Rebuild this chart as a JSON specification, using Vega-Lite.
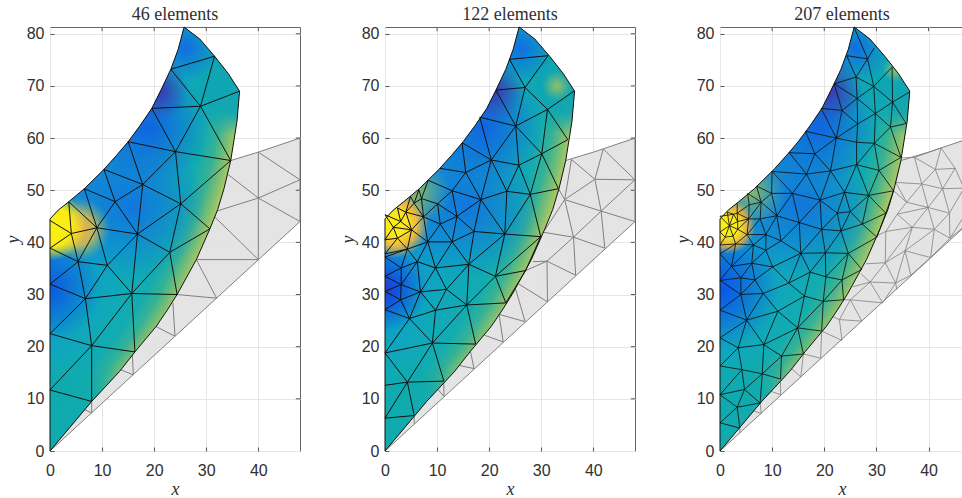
{"$schema":"https://vega.github.io/schema/vega-lite/v6.json","padding":{"left":3,"top":5,"right":0,"bottom":0},"spacing":37,"background":"white","config":{"view":{"stroke":"#666666","strokeWidth":1},"axis":{"grid":true,"gridColor":"#e6e6e6","gridWidth":1,"domain":false,"tickColor":"#555555","tickSize":-4,"labelFlush":false,"labelFont":"Liberation Sans","labelFontSize":16,"labelColor":"#303030","titleFont":"Liberation Serif","titleFontStyle":"italic","titleFontWeight":"normal","titleFontSize":18,"titleColor":"#303030"},"axisX":{"labelPadding":15,"titlePadding":2},"axisY":{"labelPadding":10},"title":{"font":"Liberation Serif","fontSize":18,"fontWeight":"normal","color":"#303030","offset":1}},
"datasets":{
"shape":[{"i":0,"x":0,"y":0},{"i":1,"x":8,"y":9.5},{"i":2,"x":13.4,"y":15.3},{"i":3,"x":16.3,"y":19},{"i":4,"x":20.4,"y":23.9},{"i":5,"x":22.5,"y":27},{"i":6,"x":24.4,"y":30},{"i":7,"x":28.1,"y":36.7},{"i":8,"x":30.7,"y":42.6},{"i":9,"x":32.2,"y":46.3},{"i":10,"x":33.4,"y":50.3},{"i":11,"x":34.7,"y":55.7},{"i":12,"x":35.9,"y":63.2},{"i":13,"x":36.4,"y":69},{"i":14,"x":34.2,"y":72.4},{"i":15,"x":31.6,"y":75.7},{"i":16,"x":28.75,"y":79},{"i":17,"x":25.75,"y":81.3},{"i":18,"x":24.6,"y":77},{"i":19,"x":23.2,"y":73.2},{"i":20,"x":21.4,"y":69.4},{"i":21,"x":19.55,"y":65.7},{"i":22,"x":17.3,"y":62.4},{"i":23,"x":15,"y":59.3},{"i":24,"x":12.7,"y":56.6},{"i":25,"x":10.35,"y":54},{"i":26,"x":6.6,"y":50.3},{"i":27,"x":3.6,"y":47.8},{"i":28,"x":1.6,"y":46.2},{"i":29,"x":0,"y":44.5},{"i":30,"x":0,"y":0}],
"gray":[{"i":0,"x":0,"y":0},{"i":1,"x":48,"y":44},{"i":2,"x":48,"y":60},{"i":3,"x":40,"y":57.3},{"i":4,"x":34.7,"y":55.7},{"i":5,"x":0,"y":0}],
"tk":[{"x":10,"y":81.3,"u":10,"v":80.5},{"x":20,"y":81.3,"u":20,"v":80.5},{"x":30,"y":81.3,"u":30,"v":80.5},{"x":40,"y":81.3,"u":40,"v":80.5},{"x":48,"y":10,"u":47.2,"v":10},{"x":48,"y":20,"u":47.2,"v":20},{"x":48,"y":30,"u":47.2,"v":30},{"x":48,"y":40,"u":47.2,"v":40},{"x":48,"y":50,"u":47.2,"v":50},{"x":48,"y":60,"u":47.2,"v":60},{"x":48,"y":70,"u":47.2,"v":70},{"x":48,"y":80,"u":47.2,"v":80}],
"g1":[{"x":40,"y":57.3,"u":48,"v":52},{"x":40,"y":57.3,"u":40,"v":48.5},{"x":40,"y":48.5,"u":48,"v":52},{"x":40,"y":48.5,"u":48,"v":44},{"x":40,"y":48.5,"u":32,"v":46},{"x":34.2,"y":53,"u":40,"v":48.5},{"x":40,"y":48.5,"u":40,"v":36.7},{"x":31.5,"y":45,"u":40,"v":36.7},{"x":28.1,"y":36.7,"u":40,"v":36.7},{"x":28.1,"y":36.7,"u":32,"v":29.3},{"x":24.4,"y":30,"u":32,"v":29.3},{"x":23.6,"y":28.4,"u":24,"v":22},{"x":20.3,"y":23.9,"u":24,"v":22},{"x":15.8,"y":18.8,"u":16,"v":14.6},{"x":13.5,"y":15.6,"u":16,"v":14.6},{"x":6.7,"y":7.9,"u":8,"v":7.3},{"x":8,"y":9.5,"u":8,"v":7.3}],
"e1":[{"x":23.2,"y":73.2,"u":31.6,"v":75.7},{"x":31.6,"y":75.7,"u":28.9,"v":66.1},{"x":28.9,"y":66.1,"u":36.4,"v":69},{"x":23.2,"y":73.2,"u":28.9,"v":66.1},{"x":19.55,"y":65.7,"u":28.9,"v":66.1},{"x":19.55,"y":65.7,"u":24.1,"v":57.4},{"x":28.9,"y":66.1,"u":24.1,"v":57.4},{"x":28.9,"y":66.1,"u":34.7,"v":55.7},{"x":15,"y":59.3,"u":24.1,"v":57.4},{"x":24.1,"y":57.4,"u":34.7,"v":55.7},{"x":15,"y":59.3,"u":17.8,"v":51.1},{"x":24.1,"y":57.4,"u":17.8,"v":51.1},{"x":24.1,"y":57.4,"u":25.1,"v":47.4},{"x":17.8,"y":51.1,"u":25.1,"v":47.4},{"x":25.1,"y":47.4,"u":34.7,"v":55.7},{"x":10.35,"y":54,"u":12.5,"v":47.8},{"x":10.35,"y":54,"u":17.8,"v":51.1},{"x":12.5,"y":47.8,"u":17.8,"v":51.1},{"x":12.5,"y":47.8,"u":16.8,"v":41.6},{"x":12.5,"y":47.8,"u":9,"v":42.8},{"x":6.6,"y":50.3,"u":12.5,"v":47.8},{"x":6.6,"y":50.3,"u":9,"v":42.8},{"x":3.6,"y":47.8,"u":9,"v":42.8},{"x":17.8,"y":51.1,"u":16.8,"v":41.6},{"x":16.8,"y":41.6,"u":25.1,"v":47.4},{"x":25.1,"y":47.4,"u":30.7,"v":42.6},{"x":16.8,"y":41.6,"u":23,"v":38.1},{"x":23,"y":38.1,"u":30.7,"v":42.6},{"x":23,"y":38.1,"u":25.1,"v":47.4},{"x":9,"y":42.8,"u":16.8,"v":41.6},{"x":9,"y":42.8,"u":4.1,"v":41.7},{"x":3.6,"y":47.8,"u":4.1,"v":41.7},{"x":0,"y":44.2,"u":4.1,"v":41.7},{"x":0,"y":38.9,"u":4.1,"v":41.7},{"x":4.1,"y":41.7,"u":5.4,"v":36.3},{"x":9,"y":42.8,"u":5.4,"v":36.3},{"x":9,"y":42.8,"u":11,"v":35.6},{"x":5.4,"y":36.3,"u":11,"v":35.6},{"x":11,"y":35.6,"u":16.8,"v":41.6},{"x":5.4,"y":36.3,"u":0,"v":38.9},{"x":5.4,"y":36.3,"u":0,"v":32},{"x":5.4,"y":36.3,"u":6.8,"v":29.2},{"x":11,"y":35.6,"u":6.8,"v":29.2},{"x":11,"y":35.6,"u":15.7,"v":30.2},{"x":16.8,"y":41.6,"u":15.7,"v":30.2},{"x":23,"y":38.1,"u":15.7,"v":30.2},{"x":23,"y":38.1,"u":24.4,"v":30},{"x":15.7,"y":30.2,"u":24.4,"v":30},{"x":6.8,"y":29.2,"u":15.7,"v":30.2},{"x":0,"y":32,"u":6.8,"v":29.2},{"x":0,"y":22.5,"u":6.8,"v":29.2},{"x":6.8,"y":29.2,"u":8,"v":20.2},{"x":15.7,"y":30.2,"u":8,"v":20.2},{"x":15.7,"y":30.2,"u":16.3,"v":19},{"x":8,"y":20.2,"u":0,"v":22.5},{"x":8,"y":20.2,"u":0,"v":11.7},{"x":8,"y":20.2,"u":16.3,"v":19},{"x":8,"y":20.2,"u":8,"v":9.5},{"x":0,"y":11.7,"u":8,"v":9.5}],
"g2":[{"x":30.7,"y":42.4,"u":34.5,"v":48.2},{"x":33.3,"y":50.3,"u":34.5,"v":48.2},{"x":34.5,"y":48.2,"u":35.8,"v":55.9},{"x":35.8,"y":55.9,"u":40.3,"v":52.1},{"x":34.5,"y":48.2,"u":40.3,"v":52.1},{"x":40.3,"y":52.1,"u":41.9,"v":57.9},{"x":41.9,"y":57.9,"u":48,"v":52},{"x":40.3,"y":52.1,"u":48,"v":52},{"x":40.3,"y":52.1,"u":41.5,"v":46},{"x":34.5,"y":48.2,"u":41.5,"v":46},{"x":48,"y":52,"u":41.5,"v":46},{"x":41.5,"y":46,"u":48,"v":44},{"x":41.5,"y":46,"u":36.2,"v":41},{"x":34.5,"y":48.2,"u":36.2,"v":41},{"x":41.5,"y":46,"u":42.2,"v":38.9},{"x":36.2,"y":41,"u":42.2,"v":38.9},{"x":30,"y":42,"u":36.2,"v":41},{"x":31.1,"y":36.4,"u":36.2,"v":41},{"x":31.1,"y":36.4,"u":27,"v":34.6},{"x":31.1,"y":36.4,"u":28.4,"v":36.3},{"x":31.1,"y":36.4,"u":36.6,"v":33.7},{"x":31.1,"y":36.4,"u":31.2,"v":28.6},{"x":36.2,"y":41,"u":36.6,"v":33.7},{"x":25.7,"y":32,"u":31.2,"v":28.6},{"x":25.1,"y":31,"u":26.9,"v":24.8},{"x":21.9,"y":26.2,"u":26.9,"v":24.8},{"x":21.9,"y":26.2,"u":22.7,"v":20.9},{"x":19.1,"y":22.2,"u":22.7,"v":20.9},{"x":16.4,"y":19.1,"u":17.1,"v":15.8},{"x":14.3,"y":16.4,"u":17.1,"v":15.8},{"x":11.3,"y":13.4,"u":11.3,"v":10.5},{"x":9.9,"y":12.1,"u":11.3,"v":10.5},{"x":5.6,"y":6.8,"u":5.6,"v":5.2}],
"e2":[{"x":23.9,"y":75.1,"u":31.3,"v":75.8},{"x":23.9,"y":75.1,"u":26.9,"v":69.7},{"x":31.3,"y":75.8,"u":26.9,"v":69.7},{"x":21.3,"y":69.2,"u":26.9,"v":69.7},{"x":26.9,"y":69.7,"u":31.2,"v":65.5},{"x":26.9,"y":69.7,"u":25.1,"v":62.3},{"x":31.2,"y":65.5,"u":36.3,"v":69},{"x":31.2,"y":65.5,"u":25.1,"v":62.3},{"x":31.2,"y":65.5,"u":35.1,"v":59.7},{"x":31.2,"y":65.5,"u":30.1,"v":57},{"x":21.3,"y":69.2,"u":25.1,"v":62.3},{"x":18.2,"y":64,"u":25.1,"v":62.3},{"x":18.2,"y":64,"u":20.4,"v":55.8},{"x":25.1,"y":62.3,"u":20.4,"v":55.8},{"x":25.1,"y":62.3,"u":25.7,"v":54.8},{"x":25.7,"y":54.8,"u":20.4,"v":55.8},{"x":25.7,"y":54.8,"u":30.1,"v":57},{"x":30.1,"y":57,"u":35.1,"v":59.7},{"x":25.1,"y":62.3,"u":30.1,"v":57},{"x":14.8,"y":59.1,"u":20.4,"v":55.8},{"x":14.8,"y":59.1,"u":15.5,"v":53.4},{"x":20.4,"y":55.8,"u":15.5,"v":53.4},{"x":20.4,"y":55.8,"u":23.4,"v":49.8},{"x":20.4,"y":55.8,"u":18.4,"v":48.2},{"x":25.7,"y":54.8,"u":23.4,"v":49.8},{"x":25.7,"y":54.8,"u":27.9,"v":49.2},{"x":30.1,"y":57,"u":27.9,"v":49.2},{"x":30.1,"y":57,"u":33.3,"v":50.3},{"x":23.4,"y":49.8,"u":27.9,"v":49.2},{"x":27.9,"y":49.2,"u":33.3,"v":50.3},{"x":23.4,"y":49.8,"u":18.4,"v":48.2},{"x":10.5,"y":54.2,"u":15.5,"v":53.4},{"x":15.5,"y":53.4,"u":12.9,"v":49.9},{"x":15.5,"y":53.4,"u":18.4,"v":48.2},{"x":8.3,"y":51.9,"u":12.9,"v":49.9},{"x":12.9,"y":49.9,"u":18.4,"v":48.2},{"x":12.9,"y":49.9,"u":10.1,"v":47.4},{"x":12.9,"y":49.9,"u":13.8,"v":45},{"x":13.8,"y":45,"u":18.4,"v":48.2},{"x":18.4,"y":48.2,"u":17.1,"v":42.1},{"x":13.8,"y":45,"u":17.1,"v":42.1},{"x":18.4,"y":48.2,"u":23,"v":41.6},{"x":23.4,"y":49.8,"u":23,"v":41.6},{"x":27.9,"y":49.2,"u":23,"v":41.6},{"x":27.9,"y":49.2,"u":29.9,"v":41.1},{"x":23,"y":41.6,"u":29.9,"v":41.1},{"x":17.1,"y":42.1,"u":23,"v":41.6},{"x":13.8,"y":45,"u":12.9,"v":40.1},{"x":10.6,"y":43.5,"u":13.8,"v":45},{"x":10.1,"y":47.4,"u":13.8,"v":45},{"x":10.1,"y":47.4,"u":10.6,"v":43.5},{"x":10.1,"y":47.4,"u":7.4,"v":44.9},{"x":7,"y":48.4,"u":10.1,"v":47.4},{"x":8.3,"y":51.9,"u":7,"v":48.4},{"x":7,"y":48.4,"u":7.4,"v":44.9},{"x":7.4,"y":44.9,"u":10.6,"v":43.5},{"x":7.4,"y":44.9,"u":5.1,"v":42.4},{"x":7.4,"y":44.9,"u":8.2,"v":40.1},{"x":10.6,"y":43.5,"u":8.2,"v":40.1},{"x":10.6,"y":43.5,"u":12.9,"v":40.1},{"x":12.9,"y":40.1,"u":17.1,"v":42.1},{"x":8.2,"y":40.1,"u":12.9,"v":40.1},{"x":17.1,"y":42.1,"u":16.1,"v":35.8},{"x":23,"y":41.6,"u":16.1,"v":35.8},{"x":23,"y":41.6,"u":21.2,"v":33.5},{"x":29.9,"y":41.1,"u":21.2,"v":33.5},{"x":29.9,"y":41.1,"u":27,"v":34.6},{"x":21.2,"y":33.5,"u":27,"v":34.6},{"x":16.1,"y":35.8,"u":21.2,"v":33.5},{"x":16.1,"y":35.8,"u":9.7,"v":35.1},{"x":12.9,"y":40.1,"u":9.7,"v":35.1},{"x":12.9,"y":40.1,"u":16.1,"v":35.8},{"x":8.2,"y":40.1,"u":9.7,"v":35.1},{"x":9.7,"y":35.1,"u":11.8,"v":31},{"x":16.1,"y":35.8,"u":11.8,"v":31},{"x":16.1,"y":35.8,"u":15.7,"v":28},{"x":21.2,"y":33.5,"u":15.7,"v":28},{"x":21.2,"y":33.5,"u":23.2,"v":28.4},{"x":27,"y":34.6,"u":23.2,"v":28.4},{"x":15.7,"y":28,"u":23.2,"v":28.4},{"x":11.8,"y":31,"u":15.7,"v":28},{"x":11.8,"y":31,"u":6.8,"v":30.5},{"x":11.8,"y":31,"u":9.7,"v":27},{"x":15.7,"y":28,"u":9.7,"v":27},{"x":6.8,"y":30.5,"u":9.7,"v":27},{"x":6.8,"y":30.5,"u":4.7,"v":25.4},{"x":6.8,"y":30.5,"u":9.7,"v":35.1},{"x":9.7,"y":27,"u":4.7,"v":25.4},{"x":3,"y":29,"u":4.7,"v":25.4},{"x":3.1,"y":31.9,"u":6.8,"v":30.5},{"x":3,"y":29,"u":6.8,"v":30.5},{"x":3.1,"y":31.9,"u":3,"v":29},{"x":3.1,"y":35.1,"u":3.1,"v":31.9},{"x":3.1,"y":35.1,"u":6.2,"v":36.3},{"x":6.2,"y":36.3,"u":9.7,"v":35.1},{"x":6.2,"y":36.3,"u":6.8,"v":30.5},{"x":6.2,"y":36.3,"u":8.2,"v":40.1},{"x":3.1,"y":35.1,"u":4.3,"v":38.7},{"x":6.2,"y":36.3,"u":4.3,"v":38.7},{"x":3.1,"y":31.9,"u":6.2,"v":36.3},{"x":0,"y":37.2,"u":3.1,"v":35.1},{"x":0,"y":33.5,"u":3.1,"v":35.1},{"x":0,"y":33.5,"u":3.1,"v":31.9},{"x":0,"y":30.6,"u":3.1,"v":31.9},{"x":0,"y":30.6,"u":3,"v":29},{"x":0,"y":27.1,"u":3,"v":29},{"x":0,"y":27.1,"u":4.7,"v":25.4},{"x":9.7,"y":27,"u":9.1,"v":20.7},{"x":4.7,"y":25.4,"u":9.1,"v":20.7},{"x":4.7,"y":25.4,"u":0,"v":18.8},{"x":0,"y":18.8,"u":9.1,"v":20.7},{"x":15.7,"y":28,"u":9.1,"v":20.7},{"x":15.7,"y":28,"u":17.4,"v":20.5},{"x":9.1,"y":20.7,"u":17.4,"v":20.5},{"x":9.1,"y":20.7,"u":4.3,"v":13.2},{"x":9.1,"y":20.7,"u":11.3,"v":13.4},{"x":0,"y":18.8,"u":4.3,"v":13.2},{"x":4.3,"y":13.2,"u":11.3,"v":13.4},{"x":4.3,"y":13.2,"u":0,"v":12.6},{"x":4.3,"y":13.2,"u":0,"v":6.3},{"x":4.3,"y":13.2,"u":5.6,"v":6.8},{"x":0,"y":6.3,"u":5.6,"v":6.8},{"x":0,"y":45.3,"u":1.6,"v":42.9},{"x":2.4,"y":46.6,"u":3,"v":44},{"x":0,"y":45.3,"u":3,"v":44},{"x":1.6,"y":42.9,"u":3,"v":44},{"x":2.4,"y":46.6,"u":4,"v":45.8},{"x":4,"y":45.8,"u":3,"v":44},{"x":4,"y":45.8,"u":5.6,"v":47.5},{"x":4.9,"y":48.8,"u":4,"v":45.8},{"x":4.9,"y":48.8,"u":5.6,"v":47.5},{"x":6.5,"y":50.1,"u":5.6,"v":47.5},{"x":6.5,"y":50.1,"u":7,"v":48.4},{"x":5.6,"y":47.5,"u":7,"v":48.4},{"x":5.6,"y":47.5,"u":7.4,"v":44.9},{"x":4,"y":45.8,"u":5.1,"v":42.4},{"x":3,"y":44,"u":5.1,"v":42.4},{"x":1.6,"y":42.9,"u":5.1,"v":42.4},{"x":4,"y":45.8,"u":7.4,"v":44.9},{"x":0,"y":40.5,"u":1.6,"v":42.9},{"x":1.6,"y":42.9,"u":2.4,"v":40.8},{"x":2.4,"y":40.8,"u":5.1,"v":42.4},{"x":2.4,"y":40.8,"u":4.3,"v":38.7},{"x":5.1,"y":42.4,"u":4.3,"v":38.7},{"x":5.1,"y":42.4,"u":8.2,"v":40.1},{"x":8.2,"y":40.1,"u":4.3,"v":38.7},{"x":0,"y":40.5,"u":2.4,"v":40.8},{"x":0,"y":37.8,"u":2.4,"v":40.8},{"x":0,"y":37.8,"u":4.3,"v":38.7},{"x":0,"y":37.2,"u":4.3,"v":38.7}],
"g3":[{"x":37.3,"y":56.3,"u":42.4,"v":58.1},{"x":37.3,"y":56.3,"u":41.3,"v":54},{"x":42.4,"y":58.1,"u":41.3,"v":54},{"x":42.4,"y":58.1,"u":45.1,"v":54.2},{"x":41.3,"y":54,"u":45.1,"v":54.2},{"x":41.3,"y":54,"u":38.7,"v":51.2},{"x":41.3,"y":54,"u":42.7,"v":50.3},{"x":45.1,"y":54.2,"u":42.7,"v":50.3},{"x":45.1,"y":54.2,"u":46.8,"v":50.4},{"x":42.7,"y":50.3,"u":46.8,"v":50.4},{"x":38.7,"y":51.2,"u":42.7,"v":50.3},{"x":37.3,"y":56.3,"u":38.7,"v":51.2},{"x":34.7,"y":56.2,"u":37.3,"v":56.3},{"x":33.7,"y":51.5,"u":38.7,"v":51.2},{"x":33.7,"y":51.5,"u":34.7,"v":56},{"x":33.7,"y":51.5,"u":35.8,"v":47.7},{"x":38.7,"y":51.2,"u":35.8,"v":47.7},{"x":38.7,"y":51.2,"u":39.9,"v":46.7},{"x":42.7,"y":50.3,"u":39.9,"v":46.7},{"x":42.7,"y":50.3,"u":44,"v":45.6},{"x":46.8,"y":50.4,"u":44,"v":45.6},{"x":35.8,"y":47.7,"u":39.9,"v":46.7},{"x":35.8,"y":47.7,"u":34,"v":45.4},{"x":35.8,"y":47.7,"u":33.3,"v":49.9},{"x":34,"y":45.4,"u":31.8,"v":42.1},{"x":34,"y":45.4,"u":36.9,"v":42.9},{"x":34,"y":45.4,"u":39.9,"v":46.7},{"x":39.9,"y":46.7,"u":36.9,"v":42.9},{"x":39.9,"y":46.7,"u":44,"v":45.6},{"x":39.9,"y":46.7,"u":41.1,"v":42.5},{"x":44,"y":45.6,"u":44.1,"v":40.8},{"x":44,"y":45.6,"u":41.1,"v":42.5},{"x":41.1,"y":42.5,"u":44.1,"v":40.8},{"x":36.9,"y":42.9,"u":41.1,"v":42.5},{"x":31.8,"y":42.1,"u":36.9,"v":42.9},{"x":31.8,"y":42.1,"u":31.7,"v":36.1},{"x":36.9,"y":42.9,"u":31.7,"v":36.1},{"x":36.9,"y":42.9,"u":35.5,"v":38.4},{"x":41.1,"y":42.5,"u":35.5,"v":38.4},{"x":41.1,"y":42.5,"u":40.4,"v":37.1},{"x":44.1,"y":40.8,"u":40.4,"v":37.1},{"x":35.5,"y":38.4,"u":40.4,"v":37.1},{"x":31.7,"y":36.1,"u":35.5,"v":38.4},{"x":35.5,"y":38.4,"u":36.6,"v":33.7},{"x":40.4,"y":37.1,"u":36.6,"v":33.7},{"x":44.1,"y":40.8,"u":46.8,"v":43},{"x":44.1,"y":40.8,"u":46.8,"v":45},{"x":31.7,"y":36.1,"u":28.8,"v":32.4},{"x":31.7,"y":36.1,"u":33.7,"v":32.2},{"x":35.5,"y":38.4,"u":33.7,"v":32.2},{"x":33.7,"y":32.2,"u":36.6,"v":33.7},{"x":33.7,"y":32.2,"u":33.9,"v":31},{"x":33.7,"y":32.2,"u":28.8,"v":32.4},{"x":28.8,"y":32.4,"u":31.2,"v":28.4},{"x":33.7,"y":32.2,"u":31.2,"v":28.4},{"x":28.8,"y":32.4,"u":25,"v":29},{"x":25,"y":29,"u":27.2,"v":24.9},{"x":25,"y":29,"u":31.2,"v":28.4},{"x":31.8,"y":42.1,"u":30,"v":41.2},{"x":31.7,"y":36.1,"u":28,"v":35.9},{"x":28.8,"y":32.4,"u":27,"v":34},{"x":28.8,"y":32.4,"u":25.5,"v":31.5},{"x":25,"y":29,"u":23.7,"v":29},{"x":25,"y":29,"u":22.9,"v":25.2},{"x":22.9,"y":25.2,"u":27.2,"v":24.9},{"x":22.9,"y":25.2,"u":23.4,"v":21.2},{"x":22.9,"y":25.2,"u":21.5,"v":25.8},{"x":19.5,"y":23,"u":23.4,"v":21.2},{"x":19.5,"y":23,"u":19.3,"v":17.8},{"x":16,"y":18.6,"u":19.3,"v":17.8},{"x":16,"y":18.6,"u":15.5,"v":14.2},{"x":13.6,"y":15.9,"u":15.5,"v":14.2},{"x":11.6,"y":13.8,"u":11.6,"v":10.8},{"x":9.6,"y":11.5,"u":11.6,"v":10.8},{"x":7.7,"y":9.2,"u":7.9,"v":7.2},{"x":6.4,"y":7.7,"u":7.9,"v":7.2},{"x":3.8,"y":4.4,"u":3.8,"v":3.5}],
"e3":[{"x":25.7,"y":81.3,"u":28.3,"v":75.2},{"x":28.3,"y":75.2,"u":29.6,"v":77.3},{"x":24.3,"y":75.8,"u":28.3,"v":75.2},{"x":24.3,"y":75.8,"u":26.1,"v":71.7},{"x":28.3,"y":75.2,"u":26.1,"v":71.7},{"x":33,"y":73.6,"u":29.5,"v":69.9},{"x":28.3,"y":75.2,"u":29.5,"v":69.9},{"x":33,"y":73.6,"u":33.1,"v":66.9},{"x":36.3,"y":68.8,"u":33.1,"v":66.9},{"x":26.1,"y":71.7,"u":29.5,"v":69.9},{"x":26.1,"y":71.7,"u":26.3,"v":67.6},{"x":21.9,"y":70.4,"u":26.1,"v":71.7},{"x":21.9,"y":70.4,"u":23.4,"v":65.3},{"x":21.9,"y":70.4,"u":26.3,"v":67.6},{"x":29.5,"y":69.9,"u":26.3,"v":67.6},{"x":29.5,"y":69.9,"u":29.8,"v":64.7},{"x":29.5,"y":69.9,"u":33.1,"v":66.9},{"x":26.3,"y":67.6,"u":23.4,"v":65.3},{"x":26.3,"y":67.6,"u":29.8,"v":64.7},{"x":26.3,"y":67.6,"u":26.4,"v":62.7},{"x":33.1,"y":66.9,"u":29.8,"v":64.7},{"x":33.1,"y":66.9,"u":32.7,"v":62.1},{"x":33.1,"y":66.9,"u":35.7,"v":62.8},{"x":29.8,"y":64.7,"u":26.4,"v":62.7},{"x":29.8,"y":64.7,"u":32.7,"v":62.1},{"x":32.7,"y":62.1,"u":35.7,"v":62.8},{"x":23.4,"y":65.3,"u":19.4,"v":65.7},{"x":23.4,"y":65.3,"u":22.3,"v":60},{"x":23.4,"y":65.3,"u":26.4,"v":62.7},{"x":19.4,"y":65.7,"u":22.3,"v":60},{"x":26.4,"y":62.7,"u":22.3,"v":60},{"x":26.4,"y":62.7,"u":26.2,"v":59.2},{"x":29.8,"y":64.7,"u":29.6,"v":59},{"x":32.7,"y":62.1,"u":29.6,"v":59},{"x":32.7,"y":62.1,"u":34.7,"v":56.3},{"x":29.6,"y":59,"u":34.7,"v":56.3},{"x":29.6,"y":59,"u":26.2,"v":59.2},{"x":22.3,"y":60,"u":26.2,"v":59.2},{"x":16.4,"y":61.3,"u":22.3,"v":60},{"x":16.4,"y":61.3,"u":18.2,"v":57},{"x":22.3,"y":60,"u":18.2,"v":57},{"x":22.3,"y":60,"u":21.2,"v":53.7},{"x":26.2,"y":59.2,"u":26.2,"v":54.9},{"x":29.6,"y":59,"u":26.2,"v":54.9},{"x":29.6,"y":59,"u":30.5,"v":53.8},{"x":34.7,"y":56.3,"u":30.5,"v":53.8},{"x":30.5,"y":53.8,"u":33.3,"v":49.9},{"x":30.5,"y":53.8,"u":28.5,"v":49},{"x":26.2,"y":54.9,"u":30.5,"v":53.8},{"x":26.2,"y":54.9,"u":21.2,"v":53.7},{"x":26.2,"y":54.9,"u":23.9,"v":49.6},{"x":26.2,"y":54.9,"u":28.5,"v":49},{"x":21.2,"y":53.7,"u":23.9,"v":49.6},{"x":21.2,"y":53.7,"u":19.2,"v":48.1},{"x":18.2,"y":57,"u":21.2,"v":53.7},{"x":18.2,"y":57,"u":16.6,"v":53.1},{"x":13.3,"y":57.2,"u":18.2,"v":57},{"x":13.3,"y":57.2,"u":16.6,"v":53.1},{"x":10,"y":53.6,"u":16.6,"v":53.1},{"x":21.2,"y":53.7,"u":16.6,"v":53.1},{"x":16.6,"y":53.1,"u":13.9,"v":49.4},{"x":16.6,"y":53.1,"u":19.2,"v":48.1},{"x":10,"y":53.6,"u":13.9,"v":49.4},{"x":10,"y":53.6,"u":9.9,"v":49.4},{"x":7,"y":50.8,"u":9.9,"v":49.4},{"x":13.9,"y":49.4,"u":9.9,"v":49.4},{"x":13.9,"y":49.4,"u":10.9,"v":45.1},{"x":13.9,"y":49.4,"u":15.2,"v":43.8},{"x":13.9,"y":49.4,"u":19.2,"v":48.1},{"x":19.2,"y":48.1,"u":15.2,"v":43.8},{"x":19.2,"y":48.1,"u":19.5,"v":42.5},{"x":19.2,"y":48.1,"u":22.5,"v":45.6},{"x":23.9,"y":49.6,"u":19.2,"v":48.1},{"x":23.9,"y":49.6,"u":22.5,"v":45.6},{"x":23.9,"y":49.6,"u":25,"v":45.9},{"x":23.9,"y":49.6,"u":28.5,"v":49},{"x":28.5,"y":49,"u":25,"v":45.9},{"x":28.5,"y":49,"u":27.3,"v":43.5},{"x":28.5,"y":49,"u":31.8,"v":45.6},{"x":28.5,"y":49,"u":33.3,"v":49.9},{"x":33.3,"y":49.9,"u":31.8,"v":45.6},{"x":31.8,"y":45.6,"u":27.3,"v":43.5},{"x":31.8,"y":45.6,"u":30.1,"v":41},{"x":25,"y":45.9,"u":22.5,"v":45.6},{"x":25,"y":45.9,"u":23.2,"v":42.2},{"x":25,"y":45.9,"u":27.3,"v":43.5},{"x":22.5,"y":45.6,"u":19.5,"v":42.5},{"x":22.5,"y":45.6,"u":23.2,"v":42.2},{"x":19.5,"y":42.5,"u":23.2,"v":42.2},{"x":15.2,"y":43.8,"u":19.5,"v":42.5},{"x":23.2,"y":42.2,"u":27.3,"v":43.5},{"x":27.3,"y":43.5,"u":30.1,"v":41},{"x":10.9,"y":45.1,"u":15.2,"v":43.8},{"x":9.9,"y":49.4,"u":10.9,"v":45.1},{"x":9.9,"y":49.4,"u":7.9,"v":47.7},{"x":7.9,"y":47.7,"u":10.9,"v":45.1},{"x":7.9,"y":47.7,"u":7.7,"v":44.5},{"x":10.9,"y":45.1,"u":7.7,"v":44.5},{"x":10.9,"y":45.1,"u":8.8,"v":41.5},{"x":10.9,"y":45.1,"u":11.7,"v":40.3},{"x":15.2,"y":43.8,"u":11.7,"v":40.3},{"x":8.8,"y":41.5,"u":11.7,"v":40.3},{"x":7.7,"y":44.5,"u":8.8,"v":41.5},{"x":8.8,"y":41.5,"u":6.4,"v":39.5},{"x":8.8,"y":41.5,"u":8.8,"v":38.5},{"x":11.7,"y":40.3,"u":8.8,"v":38.5},{"x":11.7,"y":40.3,"u":15.5,"v":37.9},{"x":15.2,"y":43.8,"u":15.5,"v":37.9},{"x":19.5,"y":42.5,"u":15.5,"v":37.9},{"x":19.5,"y":42.5,"u":20.2,"v":38},{"x":23.2,"y":42.2,"u":20.2,"v":38},{"x":23.2,"y":42.2,"u":24.6,"v":37.9},{"x":30.1,"y":41,"u":24.6,"v":37.9},{"x":15.5,"y":37.9,"u":20.2,"v":38},{"x":20.2,"y":38,"u":24.6,"v":37.9},{"x":8.8,"y":38.5,"u":10.1,"v":35.3},{"x":8.8,"y":38.5,"u":6.1,"v":36},{"x":6.4,"y":39.5,"u":8.8,"v":38.5},{"x":6.4,"y":39.5,"u":6.1,"v":36},{"x":10.1,"y":35.3,"u":15.5,"v":37.9},{"x":10.1,"y":35.3,"u":6.1,"v":36},{"x":10.1,"y":35.3,"u":13.2,"v":32.2},{"x":10.1,"y":35.3,"u":6.7,"v":32.8},{"x":15.5,"y":37.9,"u":13.2,"v":32.2},{"x":15.5,"y":37.9,"u":17.3,"v":34.3},{"x":20.2,"y":38,"u":17.3,"v":34.3},{"x":20.2,"y":38,"u":20.3,"v":33.4},{"x":24.6,"y":37.9,"u":20.3,"v":33.4},{"x":24.6,"y":37.9,"u":23.4,"v":32.8},{"x":24.6,"y":37.9,"u":27.2,"v":34.8},{"x":20.3,"y":33.4,"u":23.4,"v":32.8},{"x":23.4,"y":32.8,"u":27.2,"v":34.8},{"x":17.3,"y":34.3,"u":20.3,"v":33.4},{"x":17.3,"y":34.3,"u":13.2,"v":32.2},{"x":17.3,"y":34.3,"u":16.2,"v":29.7},{"x":20.3,"y":33.4,"u":19.8,"v":28.7},{"x":23.4,"y":32.8,"u":19.8,"v":28.7},{"x":23.4,"y":32.8,"u":23.7,"v":29},{"x":19.8,"y":28.7,"u":23.7,"v":29},{"x":16.2,"y":29.7,"u":19.8,"v":28.7},{"x":13.2,"y":32.2,"u":16.2,"v":29.7},{"x":13.2,"y":32.2,"u":8.3,"v":30.2},{"x":16.2,"y":29.7,"u":11.1,"v":26.8},{"x":8.3,"y":30.2,"u":6.7,"v":32.8},{"x":8.3,"y":30.2,"u":11.1,"v":26.8},{"x":8.3,"y":30.2,"u":4,"v":30},{"x":4,"y":30,"u":6.7,"v":32.8},{"x":4,"y":30,"u":4,"v":33.2},{"x":4,"y":33.2,"u":6.7,"v":32.8},{"x":4,"y":33.2,"u":6.1,"v":36},{"x":4,"y":33.2,"u":2.2,"v":35.4},{"x":2.2,"y":35.4,"u":6.1,"v":36},{"x":6.7,"y":32.8,"u":6.1,"v":36},{"x":0,"y":32.7,"u":4,"v":33.2},{"x":0,"y":32.7,"u":2.2,"v":35.4},{"x":0,"y":32.7,"u":4,"v":30},{"x":0,"y":27,"u":4,"v":30},{"x":0,"y":27,"u":5.1,"v":25.1},{"x":4,"y":30,"u":5.1,"v":25.1},{"x":8.3,"y":30.2,"u":5.1,"v":25.1},{"x":5.1,"y":25.1,"u":11.1,"v":26.8},{"x":5.1,"y":25.1,"u":8.4,"v":20.4},{"x":5.1,"y":25.1,"u":0,"v":21.7},{"x":11.1,"y":26.8,"u":8.4,"v":20.4},{"x":11.1,"y":26.8,"u":14.9,"v":23.6},{"x":16.2,"y":29.7,"u":14.9,"v":23.6},{"x":14.9,"y":23.6,"u":19.8,"v":28.7},{"x":14.9,"y":23.6,"u":19.5,"v":23},{"x":19.8,"y":28.7,"u":19.5,"v":23},{"x":8.4,"y":20.4,"u":14.9,"v":23.6},{"x":14.9,"y":23.6,"u":11.8,"v":18.2},{"x":14.9,"y":23.6,"u":16,"v":18.6},{"x":8.4,"y":20.4,"u":11.8,"v":18.2},{"x":11.8,"y":18.2,"u":16,"v":18.6},{"x":11.8,"y":18.2,"u":11.6,"v":13.8},{"x":8.4,"y":20.4,"u":3.5,"v":19.8},{"x":3.5,"y":19.8,"u":5.1,"v":25.1},{"x":0,"y":21.7,"u":3.5,"v":19.8},{"x":0,"y":16.3,"u":3.5,"v":19.8},{"x":3.5,"y":19.8,"u":4.2,"v":15.6},{"x":0,"y":16.3,"u":4.2,"v":15.6},{"x":8.4,"y":20.4,"u":8.1,"v":14.8},{"x":4.2,"y":15.6,"u":8.1,"v":14.8},{"x":11.8,"y":18.2,"u":8.1,"v":14.8},{"x":8.1,"y":14.8,"u":11.6,"v":13.8},{"x":8.1,"y":14.8,"u":4.7,"v":11.8},{"x":4.2,"y":15.6,"u":4.7,"v":11.8},{"x":0,"y":10.8,"u":4.2,"v":15.6},{"x":0,"y":10.8,"u":4.7,"v":11.8},{"x":4.7,"y":11.8,"u":7.7,"v":9.2},{"x":8.1,"y":14.8,"u":7.7,"v":9.2},{"x":4.7,"y":11.8,"u":3.3,"v":8.4},{"x":3.3,"y":8.4,"u":7.7,"v":9.2},{"x":0,"y":10.8,"u":3.3,"v":8.4},{"x":0,"y":5.4,"u":3.3,"v":8.4},{"x":0,"y":5.4,"u":3.8,"v":4.4},{"x":3.3,"y":8.4,"u":3.8,"v":4.4},{"x":1.8,"y":43.2,"u":0,"v":45},{"x":1.8,"y":43.2,"u":1.4,"v":45.8},{"x":1.8,"y":43.2,"u":2.6,"v":45.4},{"x":1.8,"y":43.2,"u":3.4,"v":44},{"x":1.8,"y":43.2,"u":3.4,"v":42.5},{"x":1.8,"y":43.2,"u":2.5,"v":41.2},{"x":1.8,"y":43.2,"u":1,"v":41},{"x":1.8,"y":43.2,"u":0,"v":42},{"x":0,"y":45,"u":2.6,"v":45.4},{"x":1.4,"y":45.8,"u":2.6,"v":45.4},{"x":2.6,"y":45.4,"u":3.4,"v":44},{"x":3.4,"y":44,"u":3.4,"v":42.5},{"x":3.4,"y":42.5,"u":2.5,"v":41.2},{"x":2.5,"y":41.2,"u":1,"v":41},{"x":1,"y":41,"u":0,"v":42},{"x":3.3,"y":47.5,"u":3.3,"v":45.6},{"x":2.6,"y":45.4,"u":3.3,"v":45.6},{"x":3.3,"y":45.6,"u":3.4,"v":44},{"x":3.3,"y":45.6,"u":5.6,"v":47.2},{"x":3.3,"y":45.6,"u":5.5,"v":44.5},{"x":5.3,"y":49.4,"u":5.6,"v":47.2},{"x":5.6,"y":47.2,"u":7.9,"v":47.7},{"x":5.6,"y":47.2,"u":5.5,"v":44.5},{"x":5.3,"y":49.4,"u":7.9,"v":47.7},{"x":7,"y":50.8,"u":7.9,"v":47.7},{"x":7.7,"y":44.5,"u":5.5,"v":44.5},{"x":7.9,"y":47.7,"u":5.5,"v":44.5},{"x":5.5,"y":44.5,"u":3.4,"v":44},{"x":5.5,"y":44.5,"u":3.4,"v":42.5},{"x":7.7,"y":44.5,"u":5.2,"v":41.5},{"x":5.5,"y":44.5,"u":5.2,"v":41.5},{"x":5.2,"y":41.5,"u":8.8,"v":41.5},{"x":5.2,"y":41.5,"u":3.4,"v":42.5},{"x":5.2,"y":41.5,"u":6.4,"v":39.5},{"x":5.2,"y":41.5,"u":3,"v":39.7},{"x":2.5,"y":41.2,"u":3,"v":39.7},{"x":3,"y":39.7,"u":6.4,"v":39.5},{"x":0,"y":39.5,"u":3,"v":39.7},{"x":0,"y":39.5,"u":1,"v":41},{"x":0,"y":37.8,"u":3,"v":39.7},{"x":0,"y":37.8,"u":2.2,"v":35.4},{"x":3,"y":39.7,"u":2.2,"v":35.4},{"x":6.4,"y":39.5,"u":2.2,"v":35.4}]
},
"hconcat":[
{"width":250,"height":424,"title":"46 elements",
"encoding":{"x":{"field":"x","type":"quantitative","title":"x","scale":{"domain":[0,48],"nice":false,"zero":false},"axis":{"values":[0,10,20,30,40]}},"y":{"field":"y","type":"quantitative","title":"y","scale":{"domain":[0,81.3],"nice":false,"zero":false},"axis":{"values":[0,10,20,30,40,50,60,70,80]}}},
"layer":[
{"data":{"name":"gray"},"mark":{"type":"line","fill":"#e2e2e2","fillOpacity":0.92,"stroke":"#808080","strokeWidth":1,"clip":true},"encoding":{"order":{"field":"i"}}},
{"data":{"name":"g1"},"mark":{"type":"rule","stroke":"#808080","strokeWidth":1,"clip":true},"encoding":{"x2":{"field":"u"},"y2":{"field":"v"}}},
{"data":{"name":"shape"},"mark":{"type":"line","strokeWidth":0,"fill":{"gradient":"radial","x1":-0.549,"y1":0.022,"r1":0,"x2":-0.549,"y2":0.022,"r2":1.3,"stops":[{"offset":0.6,"color":"#1a90cf"},{"offset":0.72,"color":"#1288d6"},{"offset":0.8,"color":"#0f98cc"},{"offset":0.85,"color":"#0ea5c0"},{"offset":0.93,"color":"#12acb0"},{"offset":0.955,"color":"#35b295"},{"offset":0.975,"color":"#78be75"},{"offset":0.995,"color":"#c0cc5c"}]}},"encoding":{"order":{"field":"i"}}},
{"data":{"name":"shape"},"mark":{"type":"line","strokeWidth":0,"fill":{"gradient":"radial","x1":0.313,"y1":0.963,"r1":0,"x2":0.313,"y2":0.963,"r2":0.2,"stops":[{"offset":0,"color":"rgba(14,170,175,1)"},{"offset":0.6,"color":"rgba(14,170,175,0.9)"},{"offset":1,"color":"rgba(14,170,175,0)"}]}},"encoding":{"order":{"field":"i"}}},
{"data":{"name":"shape"},"mark":{"type":"line","strokeWidth":0,"fill":{"gradient":"radial","x1":0.719,"y1":0.127,"r1":0,"x2":0.719,"y2":0.127,"r2":0.13,"stops":[{"offset":0,"color":"rgba(14,165,180,1)"},{"offset":0.6,"color":"rgba(14,165,180,0.9)"},{"offset":1,"color":"rgba(14,165,180,0)"}]}},"encoding":{"order":{"field":"i"}}},
{"data":{"name":"shape"},"mark":{"type":"line","strokeWidth":0,"fill":{"gradient":"radial","x1":0.596,"y1":0.05,"r1":0,"x2":0.596,"y2":0.05,"r2":0.08,"stops":[{"offset":0,"color":"rgba(16,110,225,1)"},{"offset":1,"color":"rgba(16,110,225,0)"}]}},"encoding":{"order":{"field":"i"}}},
{"data":{"name":"shape"},"mark":{"type":"line","strokeWidth":0,"fill":{"gradient":"radial","x1":0.276,"y1":0.619,"r1":0,"x2":0.276,"y2":0.619,"r2":0.12,"stops":[{"offset":0,"color":"rgba(12,90,225,1)"},{"offset":1,"color":"rgba(12,90,225,0)"}]}},"encoding":{"order":{"field":"i"}}},
{"data":{"name":"shape"},"mark":{"type":"line","strokeWidth":0,"fill":{"gradient":"radial","x1":0.473,"y1":0.422,"r1":0,"x2":0.473,"y2":0.422,"r2":0.17,"stops":[{"offset":0,"color":"rgba(18,110,225,0.85)"},{"offset":1,"color":"rgba(18,110,225,0)"}]}},"encoding":{"order":{"field":"i"}}},
{"data":{"name":"shape"},"mark":{"type":"line","strokeWidth":0,"fill":{"gradient":"radial","x1":0.51,"y1":0.237,"r1":0,"x2":0.51,"y2":0.237,"r2":0.14,"stops":[{"offset":0,"color":"rgba(16,100,225,1)"},{"offset":1,"color":"rgba(16,100,225,0)"}]}},"encoding":{"order":{"field":"i"}}},
{"data":{"name":"shape"},"mark":{"type":"line","strokeWidth":0,"fill":{"gradient":"radial","x1":0.534,"y1":0.151,"r1":0,"x2":0.534,"y2":0.151,"r2":0.07,"stops":[{"offset":0,"color":"rgba(60,56,176,1)"},{"offset":1,"color":"rgba(60,56,176,0)"}]}},"encoding":{"order":{"field":"i"}}},
{"data":{"name":"shape"},"mark":{"type":"line","strokeWidth":0,"fill":{"gradient":"radial","x1":0.344,"y1":0.477,"r1":0,"x2":0.344,"y2":0.477,"r2":0.075,"stops":[{"offset":0,"color":"rgba(248,180,60,1)"},{"offset":0.5,"color":"rgba(230,190,70,0.8)"},{"offset":1,"color":"rgba(120,190,120,0)"}]}},"encoding":{"order":{"field":"i"}}},
{"data":{"name":"shape"},"mark":{"type":"line","strokeWidth":0,"fill":{"gradient":"radial","x1":0.28,"y1":0.47,"r1":0,"x2":0.28,"y2":0.47,"r2":0.08,"stops":[{"offset":0,"color":"rgba(250,240,20,1)"},{"offset":0.6,"color":"rgba(250,235,20,1)"},{"offset":1,"color":"rgba(250,235,20,0)"}]}},"encoding":{"order":{"field":"i"}}},
{"data":{"name":"shape"},"mark":{"type":"line","stroke":"#111111","strokeWidth":1},"encoding":{"order":{"field":"i"}}},
{"data":{"name":"e1"},"mark":{"type":"rule","stroke":"#111111","strokeWidth":1},"encoding":{"x2":{"field":"u"},"y2":{"field":"v"}}},
{"data":{"name":"tk"},"mark":{"type":"rule","stroke":"#555555","strokeWidth":1,"clip":true},"encoding":{"x2":{"field":"u"},"y2":{"field":"v"}}}
]},
{"width":250,"height":424,"title":"122 elements",
"encoding":{"x":{"field":"x","type":"quantitative","title":"x","scale":{"domain":[0,48],"nice":false,"zero":false},"axis":{"values":[0,10,20,30,40]}},"y":{"field":"y","type":"quantitative","title":"y","scale":{"domain":[0,81.3],"nice":false,"zero":false},"axis":{"values":[0,10,20,30,40,50,60,70,80]}}},
"layer":[
{"data":{"name":"gray"},"mark":{"type":"line","fill":"#e2e2e2","fillOpacity":0.92,"stroke":"#808080","strokeWidth":1,"clip":true},"encoding":{"order":{"field":"i"}}},
{"data":{"name":"g2"},"mark":{"type":"rule","stroke":"#808080","strokeWidth":1,"clip":true},"encoding":{"x2":{"field":"u"},"y2":{"field":"v"}}},
{"data":{"name":"shape"},"mark":{"type":"line","strokeWidth":0,"fill":{"gradient":"radial","x1":-0.549,"y1":0.022,"r1":0,"x2":-0.549,"y2":0.022,"r2":1.3,"stops":[{"offset":0.6,"color":"#1a90cf"},{"offset":0.72,"color":"#1288d6"},{"offset":0.8,"color":"#0f98cc"},{"offset":0.85,"color":"#0ea5c0"},{"offset":0.93,"color":"#12acb0"},{"offset":0.955,"color":"#35b295"},{"offset":0.975,"color":"#78be75"},{"offset":0.995,"color":"#c0cc5c"}]}},"encoding":{"order":{"field":"i"}}},
{"data":{"name":"shape"},"mark":{"type":"line","strokeWidth":0,"fill":{"gradient":"radial","x1":0.313,"y1":0.963,"r1":0,"x2":0.313,"y2":0.963,"r2":0.2,"stops":[{"offset":0,"color":"rgba(14,170,175,1)"},{"offset":0.6,"color":"rgba(14,170,175,0.9)"},{"offset":1,"color":"rgba(14,170,175,0)"}]}},"encoding":{"order":{"field":"i"}}},
{"data":{"name":"shape"},"mark":{"type":"line","strokeWidth":0,"fill":{"gradient":"radial","x1":0.719,"y1":0.127,"r1":0,"x2":0.719,"y2":0.127,"r2":0.13,"stops":[{"offset":0,"color":"rgba(14,165,180,1)"},{"offset":0.6,"color":"rgba(14,165,180,0.9)"},{"offset":1,"color":"rgba(14,165,180,0)"}]}},"encoding":{"order":{"field":"i"}}},
{"data":{"name":"shape"},"mark":{"type":"line","strokeWidth":0,"fill":{"gradient":"radial","x1":0.596,"y1":0.05,"r1":0,"x2":0.596,"y2":0.05,"r2":0.08,"stops":[{"offset":0,"color":"rgba(16,110,225,1)"},{"offset":1,"color":"rgba(16,110,225,0)"}]}},"encoding":{"order":{"field":"i"}}},
{"data":{"name":"shape"},"mark":{"type":"line","strokeWidth":0,"fill":{"gradient":"radial","x1":0.276,"y1":0.619,"r1":0,"x2":0.276,"y2":0.619,"r2":0.1,"stops":[{"offset":0,"color":"rgba(40,60,200,1)"},{"offset":0.3,"color":"rgba(15,85,225,1)"},{"offset":1,"color":"rgba(12,90,225,0)"}]}},"encoding":{"order":{"field":"i"}}},
{"data":{"name":"shape"},"mark":{"type":"line","strokeWidth":0,"fill":{"gradient":"radial","x1":0.473,"y1":0.422,"r1":0,"x2":0.473,"y2":0.422,"r2":0.17,"stops":[{"offset":0,"color":"rgba(18,110,225,0.85)"},{"offset":1,"color":"rgba(18,110,225,0)"}]}},"encoding":{"order":{"field":"i"}}},
{"data":{"name":"shape"},"mark":{"type":"line","strokeWidth":0,"fill":{"gradient":"radial","x1":0.51,"y1":0.237,"r1":0,"x2":0.51,"y2":0.237,"r2":0.14,"stops":[{"offset":0,"color":"rgba(16,100,225,1)"},{"offset":1,"color":"rgba(16,100,225,0)"}]}},"encoding":{"order":{"field":"i"}}},
{"data":{"name":"shape"},"mark":{"type":"line","strokeWidth":0,"fill":{"gradient":"radial","x1":0.534,"y1":0.151,"r1":0,"x2":0.534,"y2":0.151,"r2":0.07,"stops":[{"offset":0,"color":"rgba(60,56,176,1)"},{"offset":1,"color":"rgba(60,56,176,0)"}]}},"encoding":{"order":{"field":"i"}}},
{"data":{"name":"shape"},"mark":{"type":"line","strokeWidth":0,"fill":{"gradient":"radial","x1":0.682,"y1":0.139,"r1":0,"x2":0.682,"y2":0.139,"r2":0.035,"stops":[{"offset":0,"color":"rgba(150,195,100,0.95)"},{"offset":1,"color":"rgba(150,195,100,0)"}]}},"encoding":{"order":{"field":"i"}}},
{"data":{"name":"shape"},"mark":{"type":"line","strokeWidth":0,"fill":{"gradient":"radial","x1":0.35,"y1":0.39,"r1":0,"x2":0.35,"y2":0.39,"r2":0.08,"stops":[{"offset":0,"color":"rgba(150,190,90,0.9)"},{"offset":1,"color":"rgba(120,190,120,0)"}]}},"encoding":{"order":{"field":"i"}}},
{"data":{"name":"shape"},"mark":{"type":"line","strokeWidth":0,"fill":{"gradient":"radial","x1":0.3,"y1":0.465,"r1":0,"x2":0.3,"y2":0.465,"r2":0.08,"stops":[{"offset":0,"color":"rgba(250,240,20,1)"},{"offset":0.35,"color":"rgba(250,230,30,1)"},{"offset":0.65,"color":"rgba(245,185,60,0.95)"},{"offset":1,"color":"rgba(245,185,60,0)"}]}},"encoding":{"order":{"field":"i"}}},
{"data":{"name":"shape"},"mark":{"type":"line","stroke":"#111111","strokeWidth":1},"encoding":{"order":{"field":"i"}}},
{"data":{"name":"e2"},"mark":{"type":"rule","stroke":"#111111","strokeWidth":1},"encoding":{"x2":{"field":"u"},"y2":{"field":"v"}}},
{"data":{"name":"tk"},"mark":{"type":"rule","stroke":"#555555","strokeWidth":1,"clip":true},"encoding":{"x2":{"field":"u"},"y2":{"field":"v"}}}
]},
{"width":244,"height":424,"title":"207 elements",
"encoding":{"x":{"field":"x","type":"quantitative","title":"x","scale":{"domain":[0,46.8],"nice":false,"zero":false},"axis":{"values":[0,10,20,30,40]}},"y":{"field":"y","type":"quantitative","title":"y","scale":{"domain":[0,81.3],"nice":false,"zero":false},"axis":{"values":[0,10,20,30,40,50,60,70,80]}}},
"layer":[
{"data":{"name":"gray"},"mark":{"type":"line","fill":"#e2e2e2","fillOpacity":0.92,"stroke":"#808080","strokeWidth":1,"clip":true},"encoding":{"order":{"field":"i"}}},
{"data":{"name":"g3"},"mark":{"type":"rule","stroke":"#808080","strokeWidth":0.8,"clip":true},"encoding":{"x2":{"field":"u"},"y2":{"field":"v"}}},
{"data":{"name":"shape"},"mark":{"type":"line","strokeWidth":0,"fill":{"gradient":"radial","x1":-0.549,"y1":0.022,"r1":0,"x2":-0.549,"y2":0.022,"r2":1.3,"stops":[{"offset":0.6,"color":"#1a90cf"},{"offset":0.72,"color":"#1288d6"},{"offset":0.8,"color":"#0f98cc"},{"offset":0.85,"color":"#0ea5c0"},{"offset":0.93,"color":"#12acb0"},{"offset":0.955,"color":"#35b295"},{"offset":0.975,"color":"#78be75"},{"offset":0.995,"color":"#c0cc5c"}]}},"encoding":{"order":{"field":"i"}}},
{"data":{"name":"shape"},"mark":{"type":"line","strokeWidth":0,"fill":{"gradient":"radial","x1":0.313,"y1":0.963,"r1":0,"x2":0.313,"y2":0.963,"r2":0.2,"stops":[{"offset":0,"color":"rgba(14,170,175,1)"},{"offset":0.6,"color":"rgba(14,170,175,0.9)"},{"offset":1,"color":"rgba(14,170,175,0)"}]}},"encoding":{"order":{"field":"i"}}},
{"data":{"name":"shape"},"mark":{"type":"line","strokeWidth":0,"fill":{"gradient":"radial","x1":0.719,"y1":0.127,"r1":0,"x2":0.719,"y2":0.127,"r2":0.13,"stops":[{"offset":0,"color":"rgba(14,165,180,1)"},{"offset":0.6,"color":"rgba(14,165,180,0.9)"},{"offset":1,"color":"rgba(14,165,180,0)"}]}},"encoding":{"order":{"field":"i"}}},
{"data":{"name":"shape"},"mark":{"type":"line","strokeWidth":0,"fill":{"gradient":"radial","x1":0.596,"y1":0.05,"r1":0,"x2":0.596,"y2":0.05,"r2":0.08,"stops":[{"offset":0,"color":"rgba(16,110,225,1)"},{"offset":1,"color":"rgba(16,110,225,0)"}]}},"encoding":{"order":{"field":"i"}}},
{"data":{"name":"shape"},"mark":{"type":"line","strokeWidth":0,"fill":{"gradient":"radial","x1":0.276,"y1":0.619,"r1":0,"x2":0.276,"y2":0.619,"r2":0.14,"stops":[{"offset":0,"color":"rgba(10,85,235,1)"},{"offset":1,"color":"rgba(12,90,225,0)"}]}},"encoding":{"order":{"field":"i"}}},
{"data":{"name":"shape"},"mark":{"type":"line","strokeWidth":0,"fill":{"gradient":"radial","x1":0.473,"y1":0.422,"r1":0,"x2":0.473,"y2":0.422,"r2":0.17,"stops":[{"offset":0,"color":"rgba(18,110,225,0.85)"},{"offset":1,"color":"rgba(18,110,225,0)"}]}},"encoding":{"order":{"field":"i"}}},
{"data":{"name":"shape"},"mark":{"type":"line","strokeWidth":0,"fill":{"gradient":"radial","x1":0.51,"y1":0.237,"r1":0,"x2":0.51,"y2":0.237,"r2":0.14,"stops":[{"offset":0,"color":"rgba(16,100,225,1)"},{"offset":1,"color":"rgba(16,100,225,0)"}]}},"encoding":{"order":{"field":"i"}}},
{"data":{"name":"shape"},"mark":{"type":"line","strokeWidth":0,"fill":{"gradient":"radial","x1":0.534,"y1":0.151,"r1":0,"x2":0.534,"y2":0.151,"r2":0.08,"stops":[{"offset":0,"color":"rgba(60,56,176,1)"},{"offset":1,"color":"rgba(60,56,176,0)"}]}},"encoding":{"order":{"field":"i"}}},
{"data":{"name":"shape"},"mark":{"type":"line","strokeWidth":0,"fill":{"gradient":"radial","x1":0.69,"y1":0.1,"r1":0,"x2":0.69,"y2":0.1,"r2":0.03,"stops":[{"offset":0,"color":"rgba(160,195,95,0.9)"},{"offset":1,"color":"rgba(150,195,100,0)"}]}},"encoding":{"order":{"field":"i"}}},
{"data":{"name":"shape"},"mark":{"type":"line","strokeWidth":0,"fill":{"gradient":"radial","x1":0.35,"y1":0.39,"r1":0,"x2":0.35,"y2":0.39,"r2":0.08,"stops":[{"offset":0,"color":"rgba(150,190,90,0.9)"},{"offset":1,"color":"rgba(120,190,120,0)"}]}},"encoding":{"order":{"field":"i"}}},
{"data":{"name":"shape"},"mark":{"type":"line","strokeWidth":0,"fill":{"gradient":"radial","x1":0.295,"y1":0.47,"r1":0,"x2":0.295,"y2":0.47,"r2":0.065,"stops":[{"offset":0,"color":"rgba(250,240,20,1)"},{"offset":0.4,"color":"rgba(250,235,25,1)"},{"offset":0.7,"color":"rgba(240,180,60,0.9)"},{"offset":1,"color":"rgba(240,180,60,0)"}]}},"encoding":{"order":{"field":"i"}}},
{"data":{"name":"shape"},"mark":{"type":"line","stroke":"#111111","strokeWidth":1},"encoding":{"order":{"field":"i"}}},
{"data":{"name":"e3"},"mark":{"type":"rule","stroke":"#111111","strokeWidth":0.85},"encoding":{"x2":{"field":"u"},"y2":{"field":"v"}}},
{"data":{"name":"tk"},"mark":{"type":"rule","stroke":"#555555","strokeWidth":1,"clip":true},"encoding":{"x2":{"field":"u"},"y2":{"field":"v"}}}
]}
]}
